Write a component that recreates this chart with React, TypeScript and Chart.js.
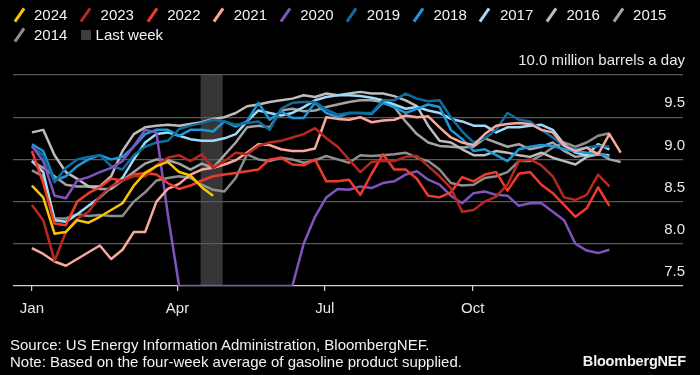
import React, { useEffect, useRef } from 'react';
import { Chart, registerables } from 'chart.js';

Chart.register(...registerables);

// ---- Data (million barrels a day, weekly, week 0 = first week of January) ----
const years = ['2024', '2023', '2022', '2021', '2020', '2019', '2018', '2017', '2016', '2015', '2014'];

const y2024 = [8.69, 8.55, 8.12, 8.14, 8.28, 8.25, 8.32, 8.4, 8.48, 8.69, 8.84, 8.92, 8.97, 8.85, 8.81, 8.67, 8.57];

const y2023 = [8.46, 8.28, 7.8, 8.14, 8.3, 8.38, 8.56, 8.68, 8.75, 8.8, 8.8, 8.93, 9.02, 9.05, 8.98, 9.06, 8.9, 8.98, 9.08, 9.06,
  9.16, 9.2, 9.22, 9.26, 9.3, 9.37, 9.25, 9.15, 9.0, 8.85, 8.97, 8.98, 8.98, 9.03, 9.04, 8.92, 8.8, 8.66, 8.38, 8.4,
  8.5, 8.56, 8.7, 8.98, 9.0, 8.93, 8.8, 8.55, 8.52, 8.58, 8.82, 8.68];

const y2022 = [9.1, 8.72, 8.24, 8.22, 8.5, 8.6, 8.67, 8.77, 8.75, 8.82, 8.84, 8.82, 8.72, 8.65, 8.69, 8.75, 8.8, 8.82, 8.84, 8.86,
  8.88, 9.0, 9.02, 8.94, 8.93, 9.0, 8.74, 8.74, 8.76, 8.58, 8.83, 9.06, 8.88, 8.88, 8.77, 8.57, 8.55, 8.61, 8.79, 8.74,
  8.82, 8.85, 8.63, 8.83, 8.85, 8.7, 8.6, 8.46, 8.32, 8.42, 8.67, 8.45];

const y2021 = [7.95, 7.88, 7.79, 7.74, 7.82, 7.9, 7.98, 7.82, 7.93, 8.14, 8.14, 8.5, 8.65, 8.71, 8.82, 8.88, 8.9, 8.94, 8.99, 9.08,
  9.18, 9.17, 9.12, 9.1, 9.1, 9.13, 9.5, 9.48, 9.47, 9.5, 9.44, 9.46, 9.47, 9.52, 9.5, 9.51, 9.38, 9.26, 9.2, 9.17,
  9.3, 9.4, 9.42, 9.43, 9.42, 9.35, 9.32, 9.16, 9.1, 9.14, 9.06, 9.3, 9.08];

const y2020 = [9.16, 8.98, 8.57, 8.54, 8.75, 8.79, 8.85, 8.9, 8.98, 9.16, 9.35, 9.32, 8.35, 7.5, 7.5, 7.5, 7.5, 7.5, 7.5, 7.5,
  7.5, 7.5, 7.5, 7.5, 8.0, 8.32, 8.55, 8.65, 8.64, 8.68, 8.66, 8.72, 8.74, 8.82, 8.86, 8.76, 8.7, 8.57, 8.48, 8.6,
  8.62, 8.58, 8.57, 8.45, 8.48, 8.48, 8.38, 8.28, 8.0, 7.92, 7.89, 7.93];

const y2019 = [9.15, 9.05, 8.73, 8.9, 9.0, 9.03, 9.05, 8.92, 8.88, 9.05, 9.15, 9.2, 9.22, 9.36, 9.4, 9.43, 9.47, 9.45, 9.41, 9.43,
  9.45, 9.35, 9.6, 9.67, 9.68, 9.68, 9.59, 9.53, 9.55, 9.55, 9.55, 9.7, 9.7, 9.78, 9.72, 9.69, 9.7, 9.5, 9.33, 9.2,
  9.25, 9.35, 9.55, 9.47, 9.45, 9.35, 9.26, 9.16, 9.12, 9.14, 9.16, 9.15];

const y2018 = [9.18, 9.1, 8.75, 8.8, 8.92, 9.0, 9.05, 9.0, 9.03, 9.15, 9.3, 9.35, 9.35, 9.28, 9.35, 9.35, 9.33, 9.45, 9.39, 9.45,
  9.67, 9.47, 9.57, 9.49, 9.49, 9.67, 9.55, 9.5, 9.55, 9.55, 9.54, 9.67, 9.62, 9.55, 9.6, 9.65, 9.62, 9.35, 9.24, 9.1,
  9.12, 9.05, 8.98, 9.12, 9.15, 9.17, 9.16, 9.12, 9.1, 9.08, 9.07, 9.03];

const y2017 = [8.98, 8.85, 8.28, 8.26, 8.35, 8.45, 8.55, 8.67, 8.78, 9.0, 9.2, 9.3, 9.32, 9.28, 9.24, 9.22, 9.22, 9.25, 9.3, 9.45,
  9.58, 9.55, 9.52, 9.55, 9.62, 9.7, 9.74, 9.76, 9.76, 9.75, 9.73, 9.7, 9.65, 9.6, 9.62, 9.58, 9.55, 9.48, 9.45, 9.4,
  9.4, 9.32, 9.38, 9.38, 9.4, 9.41, 9.35, 9.18, 9.08, 9.05, 9.18, 9.12];

const y2016 = [9.32, 9.35, 9.05, 8.85, 8.77, 8.68, 8.68, 8.8, 9.1, 9.3, 9.38, 9.4, 9.41, 9.4, 9.42, 9.44, 9.48, 9.5, 9.55, 9.63,
  9.65, 9.68, 9.7, 9.72, 9.76, 9.74, 9.78, 9.76, 9.78, 9.8, 9.78, 9.78, 9.75, 9.7, 9.63, 9.4, 9.22, 9.2, 9.12, 9.05,
  9.05, 9.1, 9.08, 9.05, 9.03, 9.08, 9.02, 8.98, 8.94, 9.03, 9.06, 9.05];

const y2015 = [8.98, 8.9, 8.8, 8.7, 8.68, 8.68, 8.65, 8.65, 8.75, 8.85, 8.95, 9.0, 8.99, 8.95, 8.88, 8.95, 8.9, 9.05, 9.2, 9.38,
  9.4, 9.38, 9.58, 9.6, 9.57, 9.58, 9.62, 9.65, 9.68, 9.7, 9.7, 9.68, 9.62, 9.45, 9.3, 9.2, 9.16, 9.15, 9.14, 9.15,
  9.25, 9.2, 9.15, 9.18, 9.12, 9.15, 9.2, 9.1, 9.03, 9.05, 9.08, 9.0, 8.97];

const y2014 = [8.87, 8.8, 8.3, 8.3, 8.35, 8.33, 8.34, 8.33, 8.33, 8.5, 8.61, 8.75, 8.78, 8.8, 8.78, 8.7, 8.64, 8.62, 8.78, 9.06,
  9.0, 8.98, 9.02, 9.0, 8.96, 8.99, 9.04, 9.0, 8.96, 9.05, 9.04, 9.05, 9.06, 9.08, 9.02, 8.98, 8.88, 8.72, 8.69, 8.7,
  8.78, 8.8, 8.85, 8.98, 8.98, 9.05, 9.14, 9.2, 9.15, 9.2, 9.28, 9.31];

const seriesValues = [y2024, y2023, y2022, y2021, y2020, y2019, y2018, y2017, y2016, y2015, y2014];
const seriesColors = ['#f7c600', '#b8281f', '#ef3b2c', '#f9a89e', '#8153bf', '#0e6d9c', '#1c99d8', '#a2d9f6', '#bdbdbd', '#a4a4a4', '#8e8e8e'];

const monthTickValues = [0, 12.86, 25.86, 38.93];
const monthLabels = ['Jan', 'Apr', 'Jul', 'Oct'];
const yTickValues = [7.5, 8.0, 8.5, 9.0, 9.5, 10.0];
const yTopLabel = '10.0 million barrels a day';
const xRange = [-1.67, 57.5];
const lastWeekRange = [14.9, 16.85];

const FONT = "'Liberation Sans', Arial, Helvetica, sans-serif";

const bandPlugin = {
  id: 'lastWeekBand',
  beforeDraw(chart: any) {
    const { ctx, chartArea, scales } = chart;
    const x0 = scales.x.getPixelForValue(lastWeekRange[0]);
    const x1 = scales.x.getPixelForValue(lastWeekRange[1]);
    ctx.save();
    ctx.fillStyle = '#363636';
    ctx.fillRect(x0, chartArea.top, x1 - x0, chartArea.bottom - chartArea.top);
    ctx.restore();
  },
};

function Slash({ color }: { color: string }) {
  return (
    <span style={{ display: 'inline-block', width: 20, height: 20, position: 'relative' }}>
      <span
        style={{
          position: 'absolute', left: 8.5, top: 2, width: 3, height: 16, background: color,
          transform: 'rotate(35deg)',
        }}
      />
    </span>
  );
}

function LegendItem({ label, color }: { label: string; color: string }) {
  return (
    <span style={{ display: 'inline-flex', alignItems: 'center', marginRight: 8.2 }}>
      <Slash color={color} />
      <span style={{ marginLeft: 5 }}>{label}</span>
    </span>
  );
}

export default function App() {
  const canvasRef = useRef<HTMLCanvasElement | null>(null);

  useEffect(() => {
    if (!canvasRef.current) return;
    Chart.defaults.font.family = FONT;
    const datasets = years.map((yr, k) => ({
      label: yr,
      data: seriesValues[k].map((v, i) => ({ x: i, y: v })),
      borderColor: seriesColors[k],
      backgroundColor: seriesColors[k],
      borderWidth: 2.5,
      pointRadius: 0,
      tension: 0,
      fill: false,
      borderJoinStyle: 'round' as const,
    }));
    const chart = new Chart(canvasRef.current, {
      type: 'line',
      data: { datasets },
      plugins: [bandPlugin],
      options: {
        animation: false,
        responsive: true,
        maintainAspectRatio: false,
        layout: { padding: { top: 75, left: 13, right: 13, bottom: 48 } },
        plugins: { legend: { display: false }, tooltip: { enabled: false } },
        scales: {
          x: {
            type: 'linear',
            min: xRange[0],
            max: xRange[1],
            afterBuildTicks: (axis: any) => { axis.ticks = monthTickValues.map((v) => ({ value: v })); },
            ticks: {
              autoSkip: false, maxRotation: 0, color: '#e8e8e8', padding: 9,
              font: { size: 15, family: FONT },
              callback: (_v: any, i: number) => monthLabels[i],
            },
            grid: { drawOnChartArea: false, drawTicks: true, tickLength: 5, color: '#cfcfcf', lineWidth: 1.2 },
            border: { display: false },
          },
          y: {
            position: 'right',
            min: 7.5,
            max: 10.0,
            afterBuildTicks: (axis: any) => { axis.ticks = yTickValues.map((v) => ({ value: v })); },
            ticks: {
              mirror: true, padding: 2, labelOffset: -14, color: '#e8e8e8',
              font: { size: 15, family: FONT },
              callback: (v: any) => (Math.abs(v - 10) < 1e-6 ? yTopLabel : Number(v).toFixed(1)),
            },
            grid: {
              drawTicks: false,
              lineWidth: 1.3,
              color: (c: any) => (c.tick && Math.abs(c.tick.value - 7.5) < 1e-6 ? '#d0d0d0' : '#5a5a5a'),
            },
            border: { display: false },
          },
        },
      },
    });
    return () => chart.destroy();
  }, []);

  const row1 = years.slice(0, 10);
  return (
    <div style={{ position: 'fixed', left: 0, top: 0, width: 700, height: 375, background: '#000', overflow: 'hidden', fontFamily: FONT, color: '#f2f2f2' }}>
      <div style={{ position: 'absolute', left: 0, top: 0, width: 700, height: 375 }}>
        <canvas ref={canvasRef} />
      </div>
      <div style={{ position: 'absolute', left: 9, top: 5, fontSize: 15, lineHeight: '20px', whiteSpace: 'nowrap' }}>
        <div style={{ display: 'flex', alignItems: 'center', height: 20 }}>
          {row1.map((yr) => (
            <LegendItem key={yr} label={yr} color={seriesColors[years.indexOf(yr)]} />
          ))}
        </div>
        <div style={{ display: 'flex', alignItems: 'center', height: 20 }}>
          <LegendItem label={years[10]} color={seriesColors[10]} />
          <span style={{ display: 'inline-flex', alignItems: 'center' }}>
            <span style={{ display: 'inline-block', width: 10, height: 10, background: '#3d3d3d', marginLeft: 5 }} />
            <span style={{ marginLeft: 5 }}>Last week</span>
          </span>
        </div>
      </div>
      <div style={{ position: 'absolute', left: 10, top: 336, fontSize: 15, lineHeight: '17px', whiteSpace: 'nowrap' }}>
        <div>Source: US Energy Information Administration, BloombergNEF.</div>
        <div>Note: Based on the four-week average of gasoline product supplied.</div>
      </div>
      <div style={{ position: 'absolute', right: 14, top: 353, fontSize: 14.5, lineHeight: '17px', fontWeight: 'bold', letterSpacing: -0.2 }}>
        BloombergNEF
      </div>
    </div>
  );
}
